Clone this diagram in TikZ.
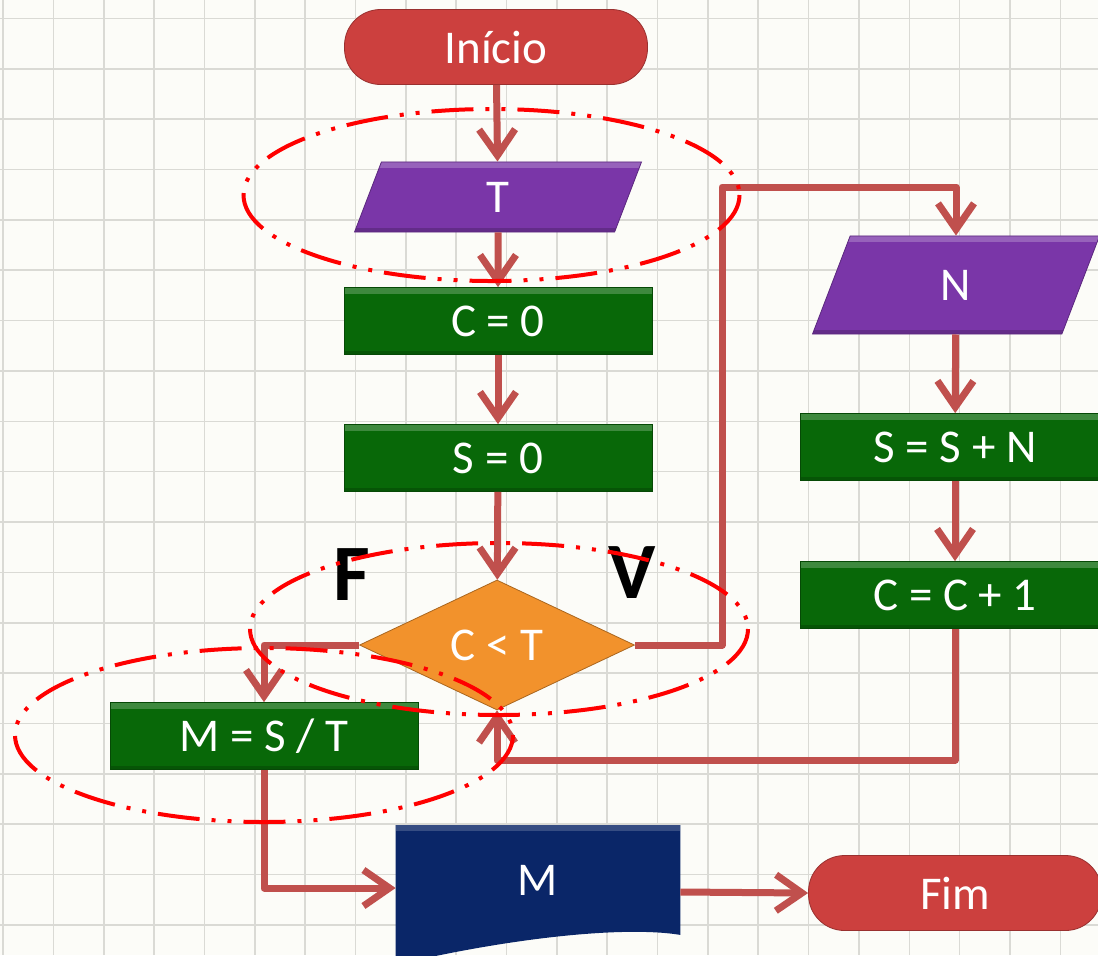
\documentclass[tikz,border=0pt]{standalone}
\usepackage{fontspec}
\setmainfont{Carlito}
\usetikzlibrary{arrows.meta,calc,shapes.geometric}

\definecolor{flowred}{RGB}{192,80,77}
\definecolor{termred}{RGB}{204,64,62}
\definecolor{iopurple}{RGB}{122,54,168}
\definecolor{procgreen}{RGB}{8,104,8}
\definecolor{decorange}{RGB}{242,146,44}
\definecolor{docblue}{RGB}{10,38,104}
\definecolor{paper}{RGB}{252,252,248}
\definecolor{gridmaj}{RGB}{218,218,213}

\begin{document}
\begin{tikzpicture}[x=0.5pt,y=-0.5pt,
  txt/.style={text=white,font=\fontsize{23.5}{27}\selectfont},
  bevel/.style={path picture={
    \fill[white,opacity=.22] (path picture bounding box.north west) rectangle ([yshift=-3pt]path picture bounding box.north east);
    \fill[black,opacity=.18] (path picture bounding box.south west) rectangle ([yshift=2pt]path picture bounding box.south east);}},
  term/.style={txt,fill=termred,draw=termred!75!black,rounded corners=18pt,minimum width=151.5pt,minimum height=37.5pt},
  proc/.style={txt,bevel,fill=procgreen,draw=procgreen!70!black,minimum width=154pt,minimum height=33.5pt},
  io/.style={txt,bevel,trapezium,trapezium stretches body=true,trapezium left angle=69,trapezium right angle=111,
    fill=iopurple,draw=iopurple!75!black,minimum width=143.5pt},
  dec/.style={txt,diamond,fill=decorange,draw=decorange!70!black,minimum width=137.5pt,minimum height=65pt,inner sep=0pt},
  flow/.style={draw=flowred,line width=3.5pt,line join=round,-{Straight Barb[length=13pt,width=18pt]}},
  ring/.style={draw=red,line width=2pt,dash pattern=on 21pt off 6pt on 2pt off 6pt on 2pt off 6pt},
  tag/.style={font=\fontsize{40}{44}\selectfont\bfseries}]

  % paper and grid
  \fill[paper] (0,0) rectangle (1098,955);
  \useasboundingbox (0,0) rectangle (1098,955);
  \clip (0,0) rectangle (1098,955);
  \foreach \i in {0,...,21}{
    \draw[gridmaj,line width=.8pt] ({3+\i*50.35},0) -- ({3+\i*50.35},955);
  }
  \foreach \j in {0,...,18}{
    \draw[gridmaj,line width=.8pt] (0,{18.5+\j*50.35}) -- (1098,{18.5+\j*50.35});
  }

  % main column
  \node[term] (ini) at (496,47) {Início};
  \node[io,inner ysep=10pt] (T) at (498,197) {T};
  \node[proc] (c0) at (498,321) {C = 0};
  \node[proc] (s0) at (498,458) {S = 0};
  \node[dec] (test) at (497,645) {C < T};
  \node[proc] (mst) at (264,736) {M = S / T};

  % loop body
  \node[io,inner ysep=17pt] (N) at (956,285) {N};
  \node[proc,minimum width=155pt] (ssn) at (955,447) {S = S + N};
  \node[proc,minimum width=155pt] (cc1) at (955,595) {C = C + 1};

  % output and end
  \node[txt,minimum width=142pt,minimum height=54.5pt] (M) at (538,880) {};
  \fill[docblue] (M.north west) -- (M.north east) -- (M.south east)
    .. controls (620,925) and (500,940) .. ([yshift=-15pt]M.south west) -- cycle;
  \fill[white,opacity=.18] (M.north west) rectangle ([yshift=-3pt]M.north east);
  \node[txt] at (M) {M};
  \node[term,minimum width=146.5pt] (fim) at (955,893) {Fim};

  \node[tag] (lblF) at (352,575) {F};
  \node[tag] (lblV) at (632,573) {V};

  \coordinate (up) at (722,187);
  \coordinate (back) at (497,760);

  % connectors
  \draw[flow] (ini) -- (T);
  \draw[flow] (T) -- (c0);
  \draw[flow] (c0) -- (s0);
  \draw[flow] (s0) -- (test);
  \draw[flow] (test.east) -| (up) -| (N.north);
  \draw[flow] (N) -- (ssn);
  \draw[flow] (ssn) -- (cc1);
  \draw[flow] (cc1.south) |- (back) -- (test.south);
  \draw[flow] (test.west) -| (mst.north);
  \draw[flow] (mst.south) |- ([yshift=-4pt]M.west);
  \draw[flow] ([yshift=-6pt]M.east) -- (fim.west);

  % highlighted regions
  \draw[ring] (491.5,195) ellipse [x radius=248, y radius=86];
  \draw[ring] (499,629) ellipse [x radius=249, y radius=86];
  \draw[ring] (264,735) ellipse [x radius=249, y radius=87];
\end{tikzpicture}
\end{document}
